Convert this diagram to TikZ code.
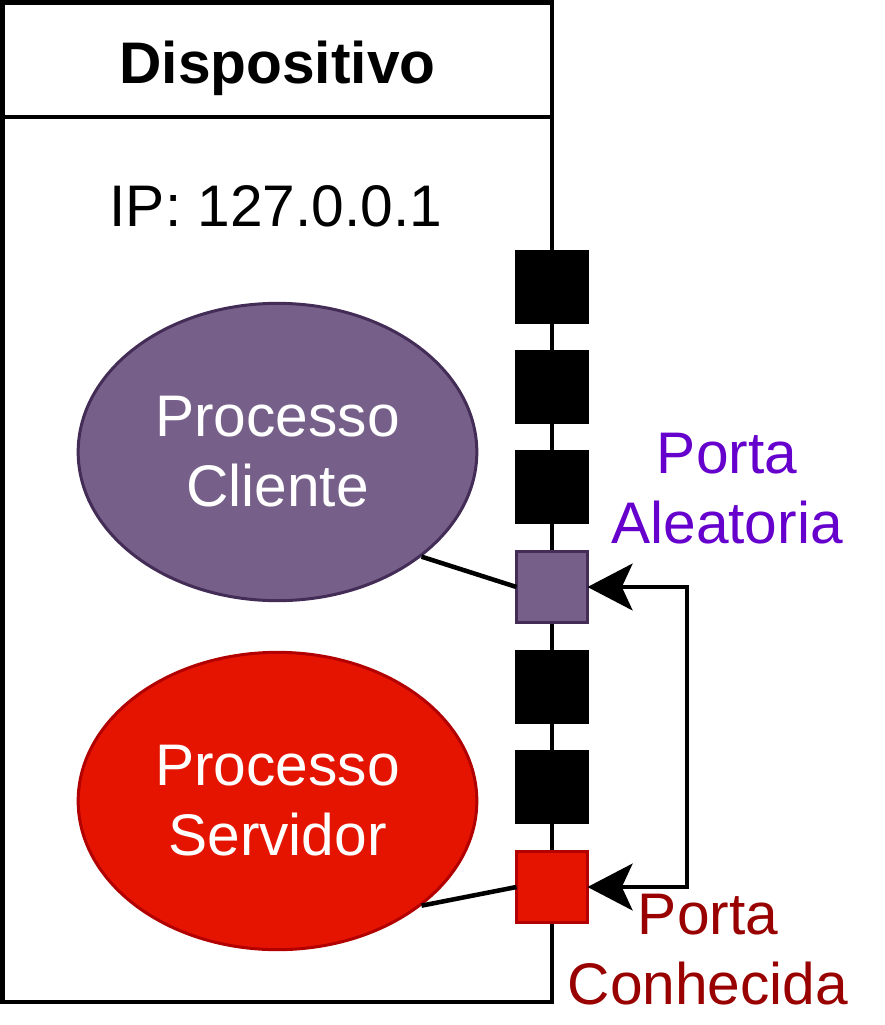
\documentclass[tikz,border=0pt]{standalone}
\usepackage{fontspec}
\setmainfont{Liberation Sans}
\usetikzlibrary{arrows.meta,shapes.geometric}
\definecolor{cliFill}{HTML}{76608A}
\definecolor{cliLine}{HTML}{432D57}
\definecolor{srvFill}{HTML}{E51400}
\definecolor{srvLine}{HTML}{B20000}
\definecolor{alea}{HTML}{6600CC}
\definecolor{conh}{HTML}{990000}
\begin{document}
\begin{tikzpicture}[x=0.75pt,y=-0.75pt,
  txt/.style={font=\fontsize{44}{52.5}\selectfont, align=center, inner sep=0pt},
  port/.style={rectangle, minimum size=53.25pt, inner sep=0pt, outer sep=0pt, line width=2.25pt},
  blackport/.style={port, fill=black, draw=black},
  proc/.style={ellipse, minimum width=299pt, minimum height=223pt, inner sep=0pt, line width=2.25pt, text=white, font=\fontsize{44}{52.5}\selectfont, align=center},
  conn/.style={line width=3.4pt},
  arr/.style={line width=3.4pt, {Stealth[length=33.75pt,width=35pt,inset=8pt]}-{Stealth[length=33.75pt,width=35pt,inset=8pt]}}
]
\useasboundingbox (0,0) rectangle (885,1025);
% device box
\draw[line width=3.4pt] (2.5,2.5) rectangle (552,1002);
\draw[line width=3.4pt] (2.5,117) -- (552,117);
\node[txt, font=\fontsize{44}{52.5}\selectfont\bfseries, anchor=base] (title) at (277.5,83) {Dispositivo};
\node[txt, anchor=base] (ip) at (276,226) {IP: 127.0.0.1};
% ports
\node[blackport] (p1) at (552,287) {};
\node[blackport] (p2) at (552,387) {};
\node[blackport] (p3) at (552,487) {};
\node[port, fill=cliFill, draw=cliLine] (pa) at (552,587) {};
\node[blackport] (p5) at (552,687) {};
\node[blackport] (p6) at (552,787) {};
\node[port, fill=srvFill, draw=srvLine] (pc) at (552,887) {};
% processes
\node[proc, fill=cliFill, draw=cliLine] (cli) at (277.5,452) {Processo\\Cliente};
\node[proc, fill=srvFill, draw=srvLine] (srv) at (277.5,801) {Processo\\Servidor};
% connectors
\draw[conn] (cli.-36.5) -- (pa.west);
\draw[conn] (srv.-36.5) -- (pc.west);
\coordinate (turn) at (687,887);
\draw[arr] (pa.east) -| (turn) -- (pc.east);
% labels
\node[txt, text=alea] (la) at (727,489) {Porta\\Aleatoria};
\node[txt, text=conh] (lc) at (708,950) {Porta\\Conhecida};
\end{tikzpicture}
\end{document}
